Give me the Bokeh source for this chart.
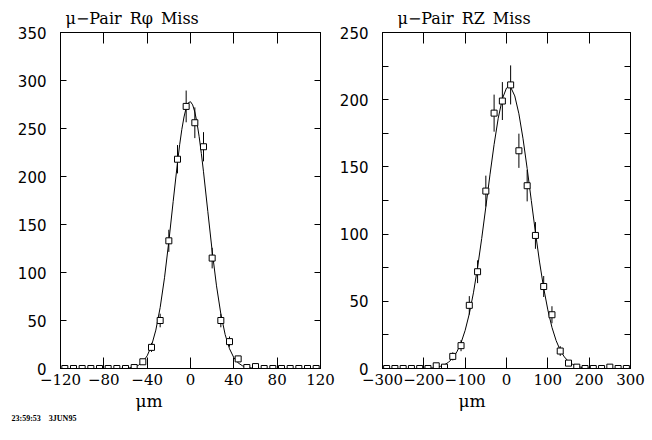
import numpy as np
from bokeh.plotting import figure
from bokeh.layouts import row
from bokeh.models import Range1d, LinearAxis, FixedTicker, Title
from bokeh.embed import file_html
from bokeh.resources import INLINE

# ---------------- data: left panel (R-phi miss) ----------------
rphi_bins = [-116, -108, -100, -92, -84, -76, -68, -60, -52, -44, -36, -28, -20, -12, -4,
             4, 12, 20, 28, 36, 44, 52, 60, 68, 76, 84, 92, 100, 108, 116]
rphi_counts = [0, 0, 0, 0, 0, 0, 0, 0, 1, 7, 22, 50, 133, 218, 273,
               256, 231, 115, 50, 28, 10, 1, 2, 0, 0, 0, 0, 0, 0, 0]
rphi_fit_x = [-64, -60, -56, -52, -48, -44, -40, -36, -32, -28, -24, -20, -16, -12, -10, -8, -6, -4, -2, 0,
              2, 4, 6, 8, 10, 12, 16, 20, 24, 28, 32, 36, 40, 44, 48, 52, 56, 60, 64]
rphi_fit_y = [0.1, 0.3, 0.7, 1.6, 3.4, 6.9, 13.2, 23.7, 40.0, 63.5, 94.5, 132.3, 173.9, 214.7, 233.1, 249.1, 262.0, 271.4, 276.8, 277.9,
              274.6, 267.2, 256.0, 241.4, 224.1, 204.9, 163.4, 122.4, 86.1, 56.9, 35.3, 20.6, 11.3, 5.8, 2.8, 1.3, 0.55, 0.22, 0.08]
rphi_xticks = [-120, -80, -40, 0, 40, 80, 120]
rphi_xlabels = ["\u2212120", "\u221280", "\u221240", "0", "40", "80", "120"]
rphi_yticks = [0, 50, 100, 150, 200, 250, 300, 350]
rphi_title = "\u03bc\u2212Pair\u2002R\u03c6\u2002Miss"

# ---------------- data: right panel (RZ miss) ----------------
rz_bins = [-290, -270, -250, -230, -210, -190, -170, -150, -130, -110, -90, -70, -50, -30, -10,
           10, 30, 50, 70, 90, 110, 130, 150, 170, 190, 210, 230, 250, 270, 290]
rz_counts = [0, 0, 0, 0, 0, 0, 2, 1, 9, 17, 47, 72, 132, 190, 199,
             211, 162, 136, 99, 61, 40, 13, 4, 1, 0, 0, 0, 1, 0, 0]
rz_fit_x = [-200, -190, -180, -170, -160, -150, -140, -130, -120, -110, -100, -90, -80, -70, -60, -50, -40, -30, -20, -10,
            0, 5, 10, 20, 30, 40, 50, 60, 70, 80, 90, 100, 110, 120, 130, 140, 150, 160, 170, 180, 190, 200]
rz_fit_y = [0.1, 0.2, 0.4, 0.85, 1.6, 2.8, 4.7, 7.8, 12.4, 19.1, 28.4, 40.7, 56.3, 75.1, 96.7, 120.2, 144.1, 166.7, 186.2, 200.7,
            208.7, 210.0, 209.4, 202.8, 189.5, 170.9, 148.8, 125.0, 101.3, 79.2, 59.8, 43.6, 30.6, 20.8, 13.6, 8.6, 5.2, 3.1, 1.75, 0.96, 0.51, 0.26]
rz_xticks = [-300, -200, -100, 0, 100, 200, 300]
rz_xlabels = ["\u2212300", "\u2212200", "\u2212100", "0", "100", "200", "300"]
rz_yticks = [0, 50, 100, 150, 200, 250]
rz_yminor = [25, 75, 125, 175, 225]
rz_title = "\u03bc\u2212Pair\u2002RZ\u2002Miss"

x_axis_title = "\u03bcm"
stamp_text = "23:59:53\u20033JUN95"

SERIF = "DejaVu Serif"
SANS = "DejaVu Sans"


def style_x(ax, ticks, labels, show):
    ax.ticker = FixedTicker(ticks=ticks)
    ax.major_tick_in = 11
    ax.major_tick_out = 0
    ax.minor_tick_line_color = None
    ax.axis_line_color = "black"
    ax.major_tick_line_color = "black"
    ax.major_label_text_font = SERIF
    ax.major_label_text_font_size = "15px"
    ax.major_label_text_color = "black"
    if show:
        ax.major_label_overrides = {t: s for t, s in zip(ticks, labels)}
        ax.major_label_standoff = 5
    else:
        ax.major_label_overrides = {t: "" for t in ticks}
        ax.major_label_standoff = 0


def style_y(ax, ticks, minor, show):
    ax.ticker = FixedTicker(ticks=ticks, minor_ticks=minor)
    ax.major_tick_in = 6
    ax.major_tick_out = 0
    ax.minor_tick_in = 6
    ax.minor_tick_out = 0
    ax.axis_line_color = "black"
    ax.major_tick_line_color = "black"
    ax.minor_tick_line_color = "black" if minor else None
    ax.major_label_text_font = SANS
    ax.major_label_text_font_size = "15px"
    ax.major_label_text_color = "black"
    if show:
        ax.major_label_standoff = 14
    else:
        ax.major_label_overrides = {t: "" for t in ticks}
        ax.major_label_standoff = 0


def panel(bins, counts, fit_x, fit_y, xticks, xlabels, yticks, yminor, title,
          title_dx, label_dx, border_left, border_right, fwidth):
    xmin, xmax = xticks[0], xticks[-1]
    ymax = yticks[-1]
    p = figure(frame_width=fwidth, frame_height=336,
               min_border_left=border_left, min_border_right=border_right,
               min_border_top=32, min_border_bottom=56,
               x_range=Range1d(xmin, xmax), y_range=Range1d(0, ymax),
               output_backend="svg", toolbar_location=None)
    p.xgrid.visible = False
    p.ygrid.visible = False
    p.outline_line_color = "black"
    p.background_fill_color = "white"
    p.border_fill_color = "white"

    p.title.text = title
    p.title.align = "left"
    p.title.offset = title_dx
    p.title.standoff = 9
    p.title.text_font = SERIF
    p.title.text_font_size = "16px"
    p.title.text_font_style = "normal"
    p.title.text_color = "black"

    style_x(p.xaxis[0], xticks, xlabels, True)
    style_y(p.yaxis[0], yticks, yminor, True)
    top = LinearAxis()
    style_x(top, xticks, xlabels, False)
    p.add_layout(top, "above")
    right = LinearAxis()
    style_y(right, yticks, yminor, False)
    p.add_layout(right, "right")

    p.add_layout(Title(text=x_axis_title, align="left", offset=label_dx, standoff=2,
                       text_font=SERIF, text_font_size="17px", text_font_style="normal",
                       text_color="black"), "below")

    p.line(fit_x, fit_y, line_color="black", line_width=1)
    counts_a = np.array(counts, dtype=float)
    err = np.sqrt(counts_a)
    p.segment(x0=bins, y0=counts_a - err, x1=bins, y1=counts_a + err,
              line_color="black", line_width=1)
    p.scatter(bins, counts, marker="square", size=6, fill_color="white",
              line_color="black", line_width=1)
    return p


p1 = panel(rphi_bins, rphi_counts, rphi_fit_x, rphi_fit_y, rphi_xticks, rphi_xlabels,
           rphi_yticks, [], rphi_title, 5, 75, 60, 16, 260)
p2 = panel(rz_bins, rz_counts, rz_fit_x, rz_fit_y, rz_xticks, rz_xlabels,
           rz_yticks, rz_yminor, rz_title, 15, 76, 44, 16, 248)

p1.add_layout(Title(text=stamp_text, align="left", offset=-49, standoff=0,
                    text_font="Liberation Serif", text_font_size="8px", text_font_style="bold",
                    text_color="black"), "below")

layout = row(p1, p2)
open("out.html", "w").write(file_html(layout, INLINE))
